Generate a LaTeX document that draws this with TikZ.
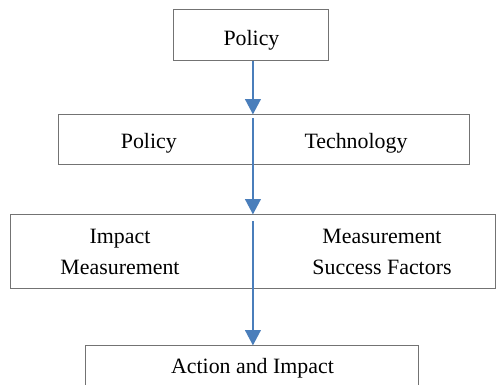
\documentclass[tikz,border=0pt]{standalone}
\usepackage{fontspec}
\setmainfont{Liberation Serif}
\usepackage{xcolor}
\usetikzlibrary{positioning,arrows.meta}
\definecolor{flowblue}{HTML}{4A7EBB}

\begin{document}
\begin{tikzpicture}[auto, >=Triangle]
    \tikzstyle{block} = [rectangle, draw=black!55, line width=0.75pt, inner sep=0pt]
    \tikzstyle{label} = [align=center, inner sep=0pt]
    \tikzstyle{line} = [draw, flowblue, line width=2.1pt, -{Triangle[length=11.5pt,width=11.5pt]}]
    \fontsize{16.4}{23.25}\selectfont

    \useasboundingbox (-188.6pt,26.6pt) rectangle (183.4pt,-262.1pt);

    \node [block, minimum width=116.25pt, minimum height=38.25pt,
        text height=18pt, text depth=3.6pt] (policy) {Policy};
    \node [block, below=39.75pt of policy, xshift=9.4pt,
        minimum width=307.5pt, minimum height=37.5pt] (drivers) {};
    \node [block, below=36.75pt of drivers, xshift=-8.25pt,
        minimum width=363.75pt, minimum height=55.5pt] (measure) {};
    \node [block, below=42pt of measure, xshift=-0.4pt,
        minimum width=249.75pt, minimum height=34.5pt,
        text height=11.2pt, text depth=5.1pt] (action) {Action and Impact};

    % texts inside the wide boxes
    \node [label, xshift=-86.4pt, yshift=-2.3pt] (drvpolicy) at (drivers.center) {Policy};
    \node [label, xshift=69pt, yshift=-2.3pt] (drvtech) at (drivers.center) {Technology};
    \node [label, xshift=-99.75pt] (impact) at (measure.center) {Impact\\Measurement};
    \node [label, xshift=96.75pt] (success) at (measure.center) {Measurement\\Success Factors};

    \coordinate (spine) at ([xshift=1.1pt]policy.south);

    \path [line] (spine) -- (spine |- drivers.north);
    \path [line, shorten <=3pt] (spine |- drivers.north) -- (spine |- measure.north);
    \path [line, shorten <=5pt] (spine |- measure.north) -- (spine |- action.north);
\end{tikzpicture}
\end{document}
